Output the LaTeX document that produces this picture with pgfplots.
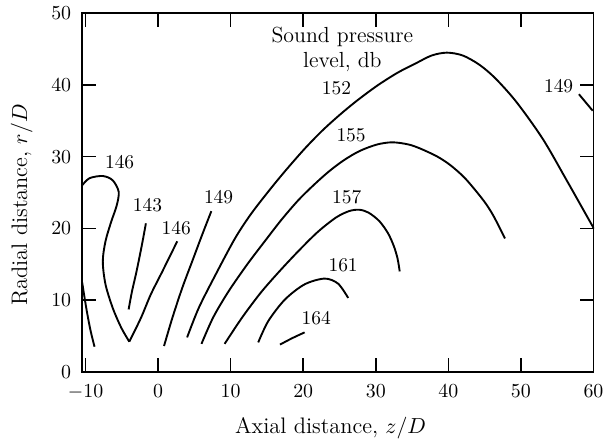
\documentclass[border=0pt]{standalone}
\usepackage{pgfplots}
\pgfplotsset{compat=1.18}
\begin{document}
\begin{tikzpicture}
\begin{axis}[
  width=257.5pt, height=180.6pt, scale only axis,
  xmin=-10.47, xmax=60, ymin=0, ymax=50,
  xtick={-10,0,10,20,30,40,50,60}, ytick={0,10,20,30,40,50},
  tick align=inside, tick pos=both,
  major tick length=7pt,
  axis line style={line width=0.9pt},
  every tick/.style={black, line width=0.8pt},
  tick label style={font=\fontsize{10}{12}\selectfont},
  xticklabel style={yshift=-3pt},
  yticklabel style={xshift=-2pt},
  clip=false,
  xlabel={Axial distance, $z/D$},
  ylabel={Radial distance, $r/D$},
  xlabel style={at={(axis description cs:0.486,-0.156)}, anchor=center, font=\fontsize{11.3}{13}\selectfont},
  ylabel style={at={(axis description cs:-0.118,0.465)}, anchor=center, font=\fontsize{11.3}{13}\selectfont},
  cline/.style={black, solid, line width=0.95pt, smooth, no marks},
]
% invisible frame to match reference proportions
\path (axis description cs:-0.1606,-0.2035) rectangle (axis description cs:1.024,1.0368);

% 146 loop (left axis -> V)
\addplot[cline] coordinates {(-10.47,26.0) (-9.44,27.0) (-7.62,27.3) (-6.25,26.7) (-5.43,25.1) (-5.7,23.2) (-6.47,20.9) (-7.25,18.2) (-7.62,15.4) (-7.25,12.2) (-6.25,8.9) (-5.1,6.2) (-3.97,4.2)};
% 146 V -> up right
\addplot[cline] coordinates {(-3.97,4.2) (-2.37,7.5) (-1.0,10.8) (0.59,14.0) (2.64,18.2)};
% 143
\addplot[cline] coordinates {(-1.68,20.7) (-2.23,17.7) (-2.97,14.0) (-3.6,11.2) (-4.06,8.7)};
% left edge curve
\addplot[cline] coordinates {(-10.47,12.5) (-9.9,8.9) (-9.34,5.9) (-8.76,3.5)};
% 149
\addplot[cline] coordinates {(7.34,22.4) (6.07,19.1) (4.7,15.4) (3.33,11.7) (1.96,7.5) (0.82,3.6)};
% 152
\addplot[cline] coordinates {(4.0,4.8) (5.6,8.9) (7.9,13.5) (10.6,18.6) (12.8,22.0) (15.4,25.4) (17.6,28.1) (20.2,31.1) (22.6,33.6) (25.0,35.8) (27.4,37.8) (30.2,39.9) (33.0,41.7) (35.5,43.0) (37.7,44.1) (39.8,44.5) (42.0,44.1) (44.3,42.8) (46.5,40.9) (49.4,37.6) (53.0,32.5) (56.2,26.9) (59.6,20.8) (60,20.1)};
% 155
\addplot[cline] coordinates {(5.98,3.9) (7.6,7.6) (9.7,11.2) (12.3,15.0) (14.7,18.2) (17.0,21.2) (19.3,23.9) (21.4,26.0) (23.5,27.9) (25.6,29.5) (27.8,30.8) (30.2,31.7) (32.3,32.0) (34.5,31.7) (36.2,31.1) (38.5,30.0) (40.3,28.8) (42.2,27.1) (43.9,25.1) (45.2,23.4) (46.3,21.6) (47.8,18.6)};
% 157
\addplot[cline] coordinates {(9.17,3.9) (11.6,7.6) (14.2,11.1) (16.8,14.1) (19.4,16.9) (22.0,19.5) (24.5,21.5) (26.3,22.4) (27.7,22.6) (29.0,22.2) (30.5,21.0) (31.7,19.3) (32.5,17.5) (33.0,15.8) (33.3,14.0)};
% 161
\addplot[cline] coordinates {(13.8,4.1) (15.2,7.1) (17.5,10.1) (20.2,12.2) (22.95,13.0) (24.8,12.3) (26.2,10.3)};
% 164
\addplot[cline] coordinates {(16.8,3.8) (18.5,4.7) (20.2,5.5)};
% 149 right
\addplot[cline, sharp plot] coordinates {(58.0,38.7) (59.9,36.4)};

\begin{scope}[every node/.style={font=\fontsize{9.8}{11}\selectfont, inner sep=0pt}]
\node at (axis cs:-5.3,29.2) {146};
\node at (axis cs:-1.46,23.3) {143};
\node at (axis cs:2.5,20.0) {146};
\node at (axis cs:8.34,24.4) {149};
\node at (axis cs:24.6,39.6) {152};
\node at (axis cs:26.6,33.0) {155};
\node at (axis cs:26.0,24.4) {157};
\node at (axis cs:25.5,14.8) {161};
\node at (axis cs:21.8,7.5) {164};
\node at (axis cs:55.2,39.9) {149};
\end{scope}
\node[align=center, font=\fontsize{11}{13}\selectfont, inner sep=0pt] at (axis cs:25.4,44.95) {Sound pressure\\level, db};
\end{axis}
\end{tikzpicture}
\end{document}
